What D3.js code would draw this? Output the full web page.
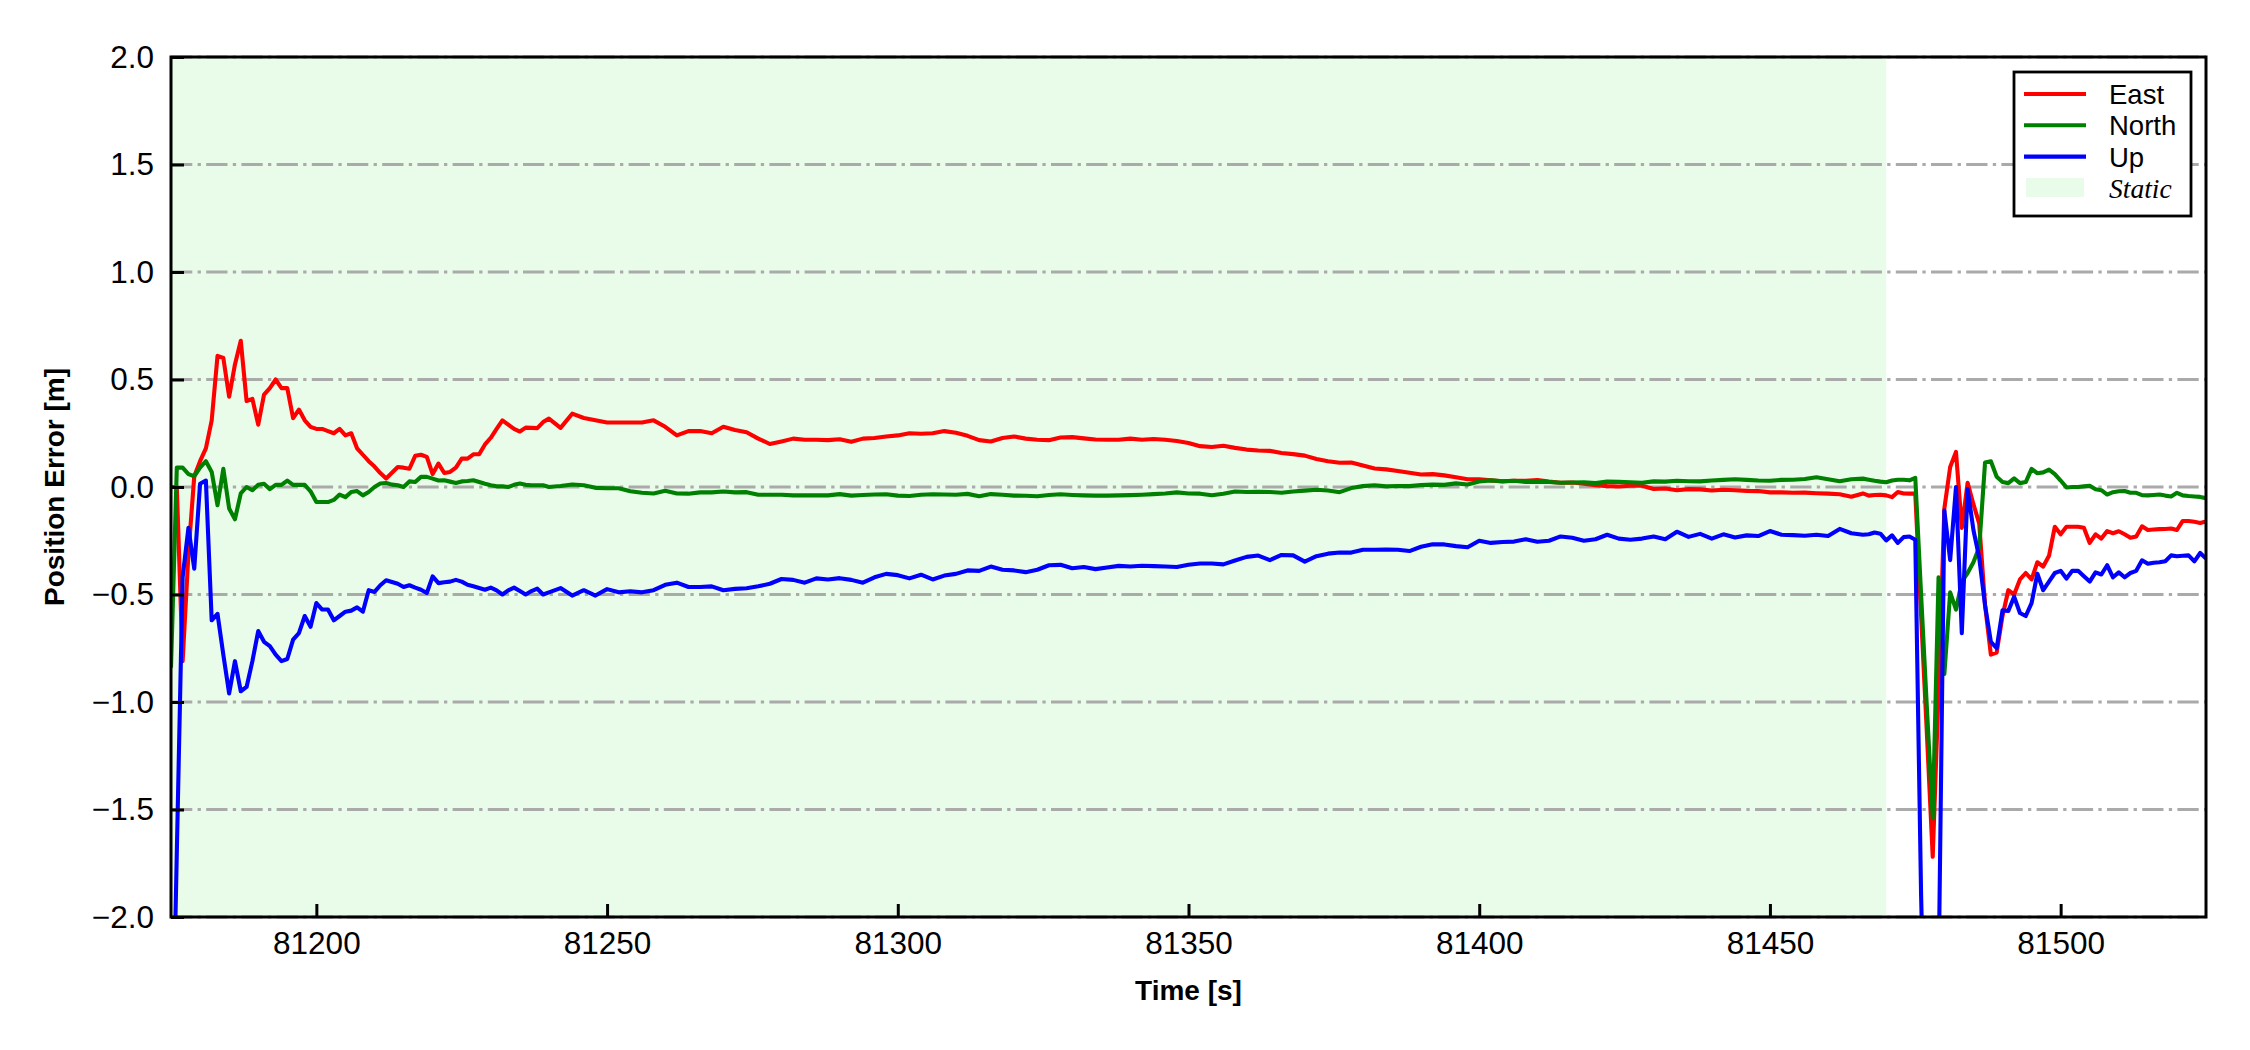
<!DOCTYPE html>
<html>
<head>
<meta charset="utf-8">
<script src="https://cdn.jsdelivr.net/npm/d3@7"></script>
<style>
  body { margin: 0; background: #fff; overflow: hidden; }
  svg { display: block; overflow: visible; }
</style>
</head>
<body>
<svg id="chart" width="2250" height="1050" font-family="Liberation Sans, Arial, sans-serif"></svg>
<script>
// sample times [s] (1 s where the errors move fast, 2 s in the quiet middle part)
var time = [
  81175,81176,81177,81178,81179,81180,81181,81182,81183,81184,
  81185,81186,81187,81188,81189,81190,81191,81192,81193,81194,
  81195,81196,81197,81198,81199,81200,81201,81202,81203,81204,
  81205,81206,81207,81208,81209,81210,81211,81212,81213,81214,
  81215,81216,81217,81218,81219,81220,81221,81222,81223,81224,
  81225,81226,81227,81228,81229,81230,81231,81232,81233,81234,
  81235,81236,81237,81238,81239,81240,
  81242,81244,81246,81248,81250,81252,81254,81256,81258,81260,
  81262,81264,81266,81268,81270,81272,81274,81276,81278,81280,
  81282,81284,81286,81288,81290,81292,81294,81296,81298,81300,
  81302,81304,81306,81308,81310,81312,81314,81316,81318,81320,
  81322,81324,81326,81328,81330,81332,81334,81336,81338,81340,
  81342,81344,81346,81348,81350,81352,81354,81356,81358,81360,
  81362,81364,81366,81368,81370,81372,81374,81376,81378,81380,
  81382,81384,81386,81388,81390,81392,81394,81396,81398,81400,
  81402,81404,81406,81408,81410,81412,81414,81416,81418,81420,
  81422,81424,81426,81428,81430,81432,81434,81436,81438,81440,
  81442,81444,81446,81448,81450,81452,81454,81456,81458,81460,
  81462,81464,81466,
  81467,81468,81469,81470,81471,81472,81473,81474,81475,
  81476,81477,81478,81479,81480,81481,81482,81483,81484,81485,
  81486,81487,81488,81489,81490,81491,81492,81493,81494,81495,
  81496,81497,81498,81499,81500,81501,81502,81503,81504,81505,
  81506,81507,81508,81509,81510,81511,81512,81513,81514,81515,
  81516,81517,81518,81519,81520,81521,81522,81523,81524,81525
];

var east = [
  0.0,0.0,-0.81,-0.31,0.05,0.12,0.18,0.31,0.61,0.60,
  0.42,0.57,0.68,0.40,0.41,0.29,0.43,0.46,0.50,0.46,
  0.46,0.32,0.36,0.31,0.28,0.27,0.27,0.26,0.25,0.27,
  0.24,0.25,0.18,0.15,0.12,0.095,0.065,0.04,0.066,0.093,
  0.09,0.085,0.145,0.15,0.14,0.06,0.109,0.065,0.07,0.09,
  0.132,0.132,0.152,0.152,0.198,0.229,0.27,0.31,0.29,0.27,
  0.258,0.276,0.275,0.274,0.302,0.318,
  0.275,0.341,0.321,0.31,0.30,0.30,0.30,0.30,0.31,0.28,
  0.24,0.26,0.26,0.25,0.28,0.265,0.255,0.225,0.20,0.212,
  0.225,0.22,0.22,0.218,0.222,0.21,0.225,0.228,0.235,0.24,
  0.25,0.248,0.25,0.26,0.252,0.238,0.218,0.212,0.228,0.235,
  0.225,0.22,0.218,0.23,0.232,0.226,0.221,0.22,0.22,0.225,
  0.22,0.223,0.22,0.214,0.205,0.19,0.186,0.192,0.182,0.174,
  0.17,0.168,0.158,0.153,0.146,0.13,0.12,0.113,0.114,0.10,
  0.086,0.082,0.074,0.066,0.058,0.06,0.054,0.045,0.036,0.036,
  0.031,0.026,0.029,0.029,0.032,0.025,0.02,0.021,0.015,0.008,
  0.004,0.002,0.006,0.006,-0.009,-0.007,-0.015,-0.01,-0.011,-0.016,
  -0.013,-0.015,-0.018,-0.019,-0.025,-0.025,-0.027,-0.026,-0.029,-0.031,
  -0.034,-0.045,-0.03,
  -0.04,-0.037,-0.036,-0.039,-0.047,-0.023,-0.03,-0.031,-0.031,
  -0.6,-1.15,-1.72,-0.95,-0.10,0.093,0.163,-0.19,0.02,-0.08,
  -0.17,-0.55,-0.78,-0.77,-0.6,-0.48,-0.5,-0.43,-0.40,-0.43,
  -0.35,-0.37,-0.32,-0.185,-0.22,-0.185,-0.185,-0.185,-0.19,-0.26,
  -0.22,-0.24,-0.205,-0.215,-0.206,-0.22,-0.236,-0.23,-0.183,-0.2,
  -0.198,-0.196,-0.195,-0.193,-0.2,-0.158,-0.158,-0.162,-0.167,-0.16
];

var north = [
  -0.84,0.09,0.09,0.06,0.05,0.09,0.12,0.07,-0.085,0.085,
  -0.10,-0.15,-0.03,0.0,-0.015,0.01,0.015,-0.01,0.01,0.01,
  0.03,0.01,0.01,0.01,-0.02,-0.07,-0.07,-0.07,-0.06,-0.035,
  -0.047,-0.023,-0.019,-0.039,-0.023,0.0,0.016,0.019,0.011,0.008,
  0.0,0.026,0.023,0.047,0.047,0.039,0.03,0.031,0.025,0.019,
  0.026,0.028,0.031,0.023,0.015,0.008,0.003,0.003,0.0,0.01,
  0.016,0.01,0.008,0.008,0.008,0.0,
  0.005,0.012,0.008,-0.004,-0.006,-0.006,-0.02,-0.027,-0.03,-0.018,
  -0.03,-0.031,-0.025,-0.025,-0.021,-0.025,-0.024,-0.036,-0.036,-0.036,
  -0.039,-0.039,-0.039,-0.039,-0.033,-0.04,-0.037,-0.035,-0.034,-0.04,
  -0.042,-0.036,-0.034,-0.035,-0.036,-0.032,-0.043,-0.033,-0.036,-0.04,
  -0.041,-0.043,-0.037,-0.034,-0.037,-0.039,-0.04,-0.04,-0.039,-0.038,
  -0.036,-0.033,-0.03,-0.025,-0.03,-0.031,-0.038,-0.031,-0.021,-0.023,
  -0.022,-0.023,-0.027,-0.021,-0.017,-0.013,-0.016,-0.024,-0.005,0.004,
  0.008,0.003,0.005,0.004,0.009,0.011,0.01,0.017,0.012,0.026,
  0.031,0.027,0.029,0.024,0.025,0.023,0.02,0.021,0.022,0.018,
  0.025,0.024,0.022,0.02,0.026,0.025,0.029,0.027,0.026,0.03,
  0.033,0.036,0.033,0.03,0.029,0.033,0.034,0.037,0.045,0.036,
  0.027,0.036,0.039,
  0.034,0.029,0.025,0.022,0.03,0.034,0.034,0.031,0.043,
  -0.5,-1.03,-1.54,-0.42,-0.87,-0.49,-0.57,-0.44,-0.40,-0.35,
  -0.28,0.114,0.12,0.048,0.023,0.018,0.04,0.018,0.023,0.084,
  0.064,0.068,0.081,0.06,0.03,-0.002,0.0,0.0,0.003,0.006,
  -0.01,-0.015,-0.035,-0.024,-0.02,-0.019,-0.027,-0.027,-0.038,-0.039,
  -0.037,-0.035,-0.04,-0.044,-0.027,-0.039,-0.042,-0.044,-0.046,-0.052
];

var up = [
  -3.0,-1.7,-0.42,-0.19,-0.38,0.015,0.03,-0.62,-0.59,-0.78,
  -0.96,-0.81,-0.95,-0.93,-0.81,-0.67,-0.72,-0.74,-0.78,-0.81,
  -0.80,-0.71,-0.68,-0.60,-0.65,-0.54,-0.57,-0.57,-0.62,-0.60,
  -0.58,-0.575,-0.56,-0.58,-0.48,-0.488,-0.457,-0.434,-0.442,-0.45,
  -0.465,-0.457,-0.468,-0.478,-0.493,-0.416,-0.447,-0.443,-0.44,-0.432,
  -0.44,-0.455,-0.462,-0.47,-0.478,-0.468,-0.481,-0.5,-0.481,-0.468,
  -0.484,-0.5,-0.484,-0.473,-0.5,-0.49,
  -0.47,-0.505,-0.48,-0.505,-0.475,-0.49,-0.485,-0.49,-0.48,-0.455,
  -0.445,-0.465,-0.465,-0.462,-0.48,-0.474,-0.471,-0.462,-0.45,-0.428,
  -0.432,-0.445,-0.425,-0.43,-0.424,-0.432,-0.445,-0.42,-0.404,-0.41,
  -0.425,-0.408,-0.43,-0.412,-0.404,-0.388,-0.39,-0.37,-0.385,-0.388,
  -0.396,-0.385,-0.364,-0.362,-0.378,-0.372,-0.382,-0.374,-0.367,-0.37,
  -0.366,-0.368,-0.37,-0.372,-0.362,-0.356,-0.356,-0.36,-0.342,-0.325,
  -0.319,-0.34,-0.316,-0.318,-0.347,-0.322,-0.31,-0.305,-0.305,-0.292,
  -0.292,-0.291,-0.292,-0.298,-0.278,-0.266,-0.267,-0.275,-0.28,-0.25,
  -0.26,-0.256,-0.254,-0.243,-0.255,-0.25,-0.23,-0.236,-0.25,-0.243,
  -0.222,-0.24,-0.245,-0.24,-0.23,-0.243,-0.208,-0.232,-0.218,-0.24,
  -0.22,-0.235,-0.225,-0.228,-0.205,-0.222,-0.224,-0.227,-0.222,-0.228,
  -0.195,-0.215,-0.222,
  -0.22,-0.212,-0.217,-0.248,-0.225,-0.26,-0.233,-0.23,-0.245,
  -1.9,-3.0,-3.0,-2.3,-0.11,-0.34,0.0,-0.68,-0.01,-0.2,
  -0.33,-0.55,-0.72,-0.75,-0.574,-0.577,-0.51,-0.586,-0.6,-0.54,
  -0.403,-0.48,-0.44,-0.40,-0.39,-0.426,-0.39,-0.39,-0.415,-0.44,
  -0.397,-0.407,-0.364,-0.42,-0.397,-0.42,-0.4,-0.39,-0.341,-0.357,
  -0.352,-0.35,-0.345,-0.318,-0.322,-0.32,-0.318,-0.346,-0.307,-0.333
];

var xTicks = [81200, 81250, 81300, 81350, 81400, 81450, 81500];
var yTicks = [-2.0, -1.5, -1.0, -0.5, 0.0, 0.5, 1.0, 1.5, 2.0];
var staticSpan = [81170, 81470];        // shaded "Static" period
var seriesNames = ["East", "North", "Up"];
var seriesColors = ["#ff0000", "#008000", "#0000ff"];

if (east.length !== time.length || north.length !== time.length || up.length !== time.length) {
  console.warn("length mismatch", time.length, east.length, north.length, up.length);
}

var sansFont = "Liberation Sans, Arial, sans-serif";
var serifFont = "Liberation Serif, Times New Roman, serif";

var svg = d3.select("#chart");
var margin = { top: 57, right: 44, bottom: 133, left: 171 };
var width = 2250, height = 1050;
var innerWidth = width - margin.left - margin.right;     // 2035
var innerHeight = height - margin.top - margin.bottom;   // 860

var x = d3.scaleLinear().domain([81175, 81525]).range([0, innerWidth]);
var y = d3.scaleLinear().domain([-2, 2]).range([innerHeight, 0]);

var g = svg.append("g").attr("transform", "translate(" + margin.left + "," + margin.top + ")");

svg.append("defs").append("clipPath").attr("id", "plot-clip")
  .append("rect").attr("width", innerWidth).attr("height", innerHeight);

// static shading
g.append("rect")
  .attr("x", Math.max(0, x(staticSpan[0])))
  .attr("y", 0)
  .attr("width", x(staticSpan[1]) - Math.max(0, x(staticSpan[0])))
  .attr("height", innerHeight)
  .attr("fill", "#e9fce9");

// horizontal dash-dot grid
g.append("g").selectAll("line")
  .data(yTicks)
  .enter().append("line")
  .attr("x1", 0).attr("x2", innerWidth)
  .attr("y1", d => y(d)).attr("y2", d => y(d))
  .attr("stroke", "#aaaaaa")
  .attr("stroke-width", 3.2)
  .attr("stroke-dasharray", "21.3,5.3,3.3,5.3");

// the three error series
var series = [east, north, up];
var line = d3.line()
  .x((d, i) => x(time[i]))
  .y(d => y(d));

g.append("g").attr("clip-path", "url(#plot-clip)")
  .selectAll("path")
  .data(series)
  .enter().append("path")
  .attr("d", d => line(d))
  .attr("fill", "none")
  .attr("stroke", (d, i) => seriesColors[i])
  .attr("stroke-width", 4.1)
  .attr("stroke-linejoin", "round");

// axes, ticks pointing inwards
var xAxis = g.append("g")
  .attr("transform", "translate(0," + innerHeight + ")")
  .call(d3.axisBottom(x).tickValues(xTicks).tickFormat(d3.format("d")).tickSize(-13).tickPadding(15));

var yAxis = g.append("g")
  .call(d3.axisLeft(y).tickValues(yTicks).tickFormat(d3.format(".1f")).tickSize(-13).tickPadding(17));

[xAxis, yAxis].forEach(function(ax) {
  ax.attr("font-family", sansFont).attr("font-size", 31.5);
  ax.select(".domain").remove();
  ax.selectAll(".tick line").attr("stroke", "#000").attr("stroke-width", 3);
  ax.selectAll(".tick text").attr("fill", "#000");
});

// frame
g.append("rect")
  .attr("width", innerWidth).attr("height", innerHeight)
  .attr("fill", "none")
  .attr("stroke", "#000")
  .attr("stroke-width", 3);

// axis labels
g.append("text")
  .attr("x", innerWidth / 2)
  .attr("y", 1000 - margin.top)
  .attr("text-anchor", "middle")
  .attr("font-family", sansFont)
  .attr("font-weight", "bold")
  .attr("font-size", 28)
  .text("Time [s]");

g.append("text")
  .attr("transform", "rotate(-90)")
  .attr("x", -innerHeight / 2)
  .attr("y", 64 - margin.left)
  .attr("text-anchor", "middle")
  .attr("font-family", sansFont)
  .attr("font-weight", "bold")
  .attr("font-size", 28)
  .text("Position Error [m]");

// legend
var legend = svg.append("g").attr("transform", "translate(2014,72)");
legend.append("rect")
  .attr("width", 177).attr("height", 144)
  .attr("fill", "#fff")
  .attr("stroke", "#000")
  .attr("stroke-width", 2.8);

legend.selectAll("line.key")
  .data(seriesNames)
  .enter().append("line")
  .attr("class", "key")
  .attr("x1", 10).attr("x2", 72)
  .attr("y1", (d, i) => 22 + i * 31.3)
  .attr("y2", (d, i) => 22 + i * 31.3)
  .attr("stroke", (d, i) => seriesColors[i])
  .attr("stroke-width", 4.1);

legend.append("rect")
  .attr("x", 12).attr("y", 106)
  .attr("width", 58).attr("height", 19)
  .attr("fill", "#e9fce9");

legend.selectAll("text.key")
  .data(seriesNames)
  .enter().append("text")
  .attr("class", "key")
  .attr("x", 95)
  .attr("y", (d, i) => 22 + i * 31.3 + 10)
  .attr("font-family", sansFont)
  .attr("font-size", 27.5)
  .text(d => d);

legend.append("text")
  .attr("x", 95)
  .attr("y", 125.5)
  .attr("font-family", serifFont)
  .attr("font-style", "italic")
  .attr("font-size", 27.5)
  .text("Static");
</script>
</body>
</html>
